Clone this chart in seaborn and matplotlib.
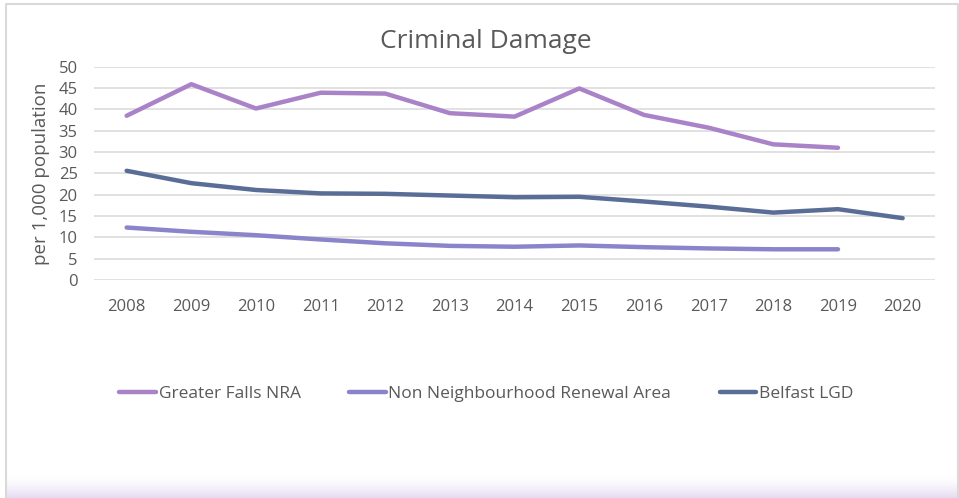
import numpy as np
import pandas as pd
import matplotlib
matplotlib.use("Agg")
import matplotlib.pyplot as plt
import seaborn as sns

years = [2008, 2009, 2010, 2011, 2012, 2013, 2014, 2015, 2016, 2017, 2018, 2019, 2020]
greater_falls = [38.5, 45.9, 40.2, 43.9, 43.7, 39.1, 38.3, 44.9, 38.7, 35.7, 31.8, 31.0, None]
non_nra = [12.3, 11.3, 10.5, 9.5, 8.6, 8.0, 7.8, 8.1, 7.7, 7.4, 7.2, 7.2, None]
belfast = [25.6, 22.7, 21.1, 20.3, 20.2, 19.8, 19.4, 19.5, 18.4, 17.2, 15.8, 16.6, 14.5]

series_names = ["Greater Falls NRA", "Non Neighbourhood Renewal Area", "Belfast LGD"]
colors = ["#AA82C8", "#8A85CA", "#5A6D96"]
yticks = [0, 5, 10, 15, 20, 25, 30, 35, 40, 45, 50]

rows = []
for name, vals in zip(series_names, [greater_falls, non_nra, belfast]):
    for y, v in zip(years, vals):
        if v is not None:
            rows.append({"Year": y, "Value": v, "Series": name})
df = pd.DataFrame(rows)

sns.set_theme(style="white")
plt.rcParams["font.family"] = ["Open Sans", "DejaVu Sans"]
text_color = "#595959"
grid_color = "#D9D9D9"

fig = plt.figure(figsize=(9.59, 4.98), dpi=100)

# Soft lavender band along the bottom edge of the chart frame
bg = fig.add_axes([0, 0, 1, 1], zorder=-5)
bg.set_xlim(0, 959)
bg.set_ylim(498, 0)
bg.axis("off")
grad = np.linspace(0, 1, 64).reshape(-1, 1) ** 1.6
lav = np.array([0.90, 0.86, 0.95])
img = np.ones((64, 1, 3)) * (1 - grad[..., None]) + lav * grad[..., None]
bg.imshow(img, extent=[6, 958, 498, 474], aspect="auto", zorder=0)
bg.plot([6, 6, 958, 958], [498, 3.5, 3.5, 498], color=grid_color, lw=1.5, zorder=1)

ax = fig.add_axes([94.3 / 959, 1 - 280 / 498, 840.7 / 959, (280 - 66.7) / 498])
ax.set_facecolor("none")

sns.lineplot(data=df, x="Year", y="Value", hue="Series", hue_order=series_names,
             palette=colors, linewidth=3.2, ax=ax, legend=False,
             solid_capstyle="round", solid_joinstyle="round")

ax.set_xlim(2007.5, 2020.5)
ax.set_ylim(0, 50)
ax.set_xticks(years)
ax.set_xticklabels([str(y) for y in years])
ax.set_yticks(yticks)
for s in ax.spines.values():
    s.set_visible(False)
ax.yaxis.grid(True, color=grid_color, linewidth=1.1)
ax.xaxis.grid(False)
ax.set_axisbelow(True)
ax.tick_params(axis="both", length=0, labelsize=12, labelcolor=text_color)
ax.tick_params(axis="x", pad=14)
ax.tick_params(axis="y", pad=12)
ax.set_xlabel("")
ax.set_ylabel("per 1,000 population", fontsize=13.5, color=text_color, labelpad=6)

fig.text(0.507, 1 - 41 / 498, "Criminal Damage", ha="center", va="center",
         fontsize=19, color=text_color)

handles = [plt.Line2D([0], [0], color=c, lw=3.2, solid_capstyle="round") for c in colors]
fig.legend(handles, series_names, loc="center", bbox_to_anchor=(0.507, 1 - 394 / 498),
           ncol=3, frameon=False, fontsize=12.5, labelcolor=text_color,
           handlelength=2.1, handletextpad=0.15, columnspacing=2.8)

fig.savefig("out.png", dpi=100)
